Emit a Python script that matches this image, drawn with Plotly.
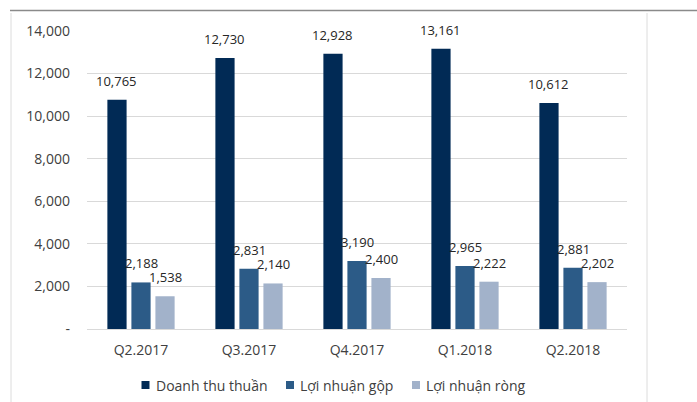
import plotly.graph_objects as go

quarters = ["Q2.2017", "Q3.2017", "Q4.2017", "Q1.2018", "Q2.2018"]
doanh_thu = [10765, 12730, 12928, 13161, 10612]
ln_gop = [2188, 2831, 3190, 2965, 2881]
ln_rong = [1538, 2140, 2400, 2222, 2202]

series_names = ["Doanh thu thuần", "Lợi nhuận gộp", "Lợi nhuận ròng"]
series_values = [doanh_thu, ln_gop, ln_rong]
colors = ["#012a55", "#2c5b87", "#a2b2ca"]

y_tickvals = [0, 2000, 4000, 6000, 8000, 10000, 12000, 14000]
y_ticktext = ["-", "2,000", "4,000", "6,000", "8,000", "10,000", "12,000", "14,000"]

W, H = 697, 402
ML, MR, MT, MB = 87, 70, 31, 73
font_family = "Open Sans, Liberation Sans, sans-serif"

fig = go.Figure()
for name, vals, col in zip(series_names, series_values, colors):
    fig.add_trace(go.Bar(x=quarters, y=vals, name=name, showlegend=False,
                         marker=dict(color=col, line=dict(width=0))))

# value labels above each bar, shifted to the bar's slot within the group
slot_px = 24.5
for i, vals in enumerate(series_values):
    for q, v in zip(quarters, vals):
        fig.add_annotation(x=q, y=v, text=f"{v:,}", showarrow=False,
                           yanchor="bottom", yshift=8, xshift=(i - 1) * slot_px,
                           font=dict(size=13, color="#262626", family=font_family))

pw, ph = W - ML - MR, H - MT - MB
def px_x(p):
    return (p - ML) / pw
def px_y(p):
    return (H - MB - p) / ph

# chart frame: top rule and light side borders
fig.add_shape(type="line", xref="paper", yref="paper", x0=px_x(10), x1=px_x(697),
              y0=px_y(10.5), y1=px_y(10.5), line=dict(color="#8a8a8a", width=1.5))
fig.add_shape(type="line", xref="paper", yref="paper", x0=px_x(11), x1=px_x(11),
              y0=px_y(13), y1=px_y(402), line=dict(color="#dcdcdc", width=1))
fig.add_shape(type="line", xref="paper", yref="paper", x0=px_x(647), x1=px_x(647),
              y0=px_y(13), y1=px_y(402), line=dict(color="#dcdcdc", width=1))

# compact legend below the axis: small square swatch followed by the series name
legend_x = [141.5, 286, 412]
legend_y = 385
for name, col, lx in zip(series_names, colors, legend_x):
    fig.add_shape(type="rect", xref="paper", yref="paper",
                  x0=px_x(lx), x1=px_x(lx + 8), y0=px_y(legend_y - 4), y1=px_y(legend_y + 4),
                  fillcolor=col, line=dict(width=0))
    fig.add_annotation(xref="paper", yref="paper", x=px_x(lx + 12), y=px_y(legend_y),
                       text=name, showarrow=False, xanchor="left", yanchor="middle",
                       font=dict(size=14, color="#404040", family=font_family))

fig.update_layout(
    width=W, height=H,
    margin=dict(l=ML, r=MR, t=MT, b=MB),
    paper_bgcolor="white", plot_bgcolor="white",
    barmode="group", bargap=0.333, bargroupgap=0.2,
    font=dict(family=font_family, color="#404040", size=13),
    showlegend=False,
    xaxis=dict(showgrid=False, showline=False, ticks="", automargin=False,
               tickfont=dict(size=14, color="#404040"), ticklabelstandoff=11),
    yaxis=dict(range=[0, 14000], tickvals=y_tickvals, ticktext=y_ticktext, automargin=False,
               showgrid=True, gridcolor="#d9d9d9", gridwidth=1,
               zeroline=True, zerolinecolor="#d9d9d9", zerolinewidth=1,
               showline=False, ticks="", tickfont=dict(size=14, color="#404040"),
               ticklabelstandoff=16),
)

fig.write_html("out.html")
